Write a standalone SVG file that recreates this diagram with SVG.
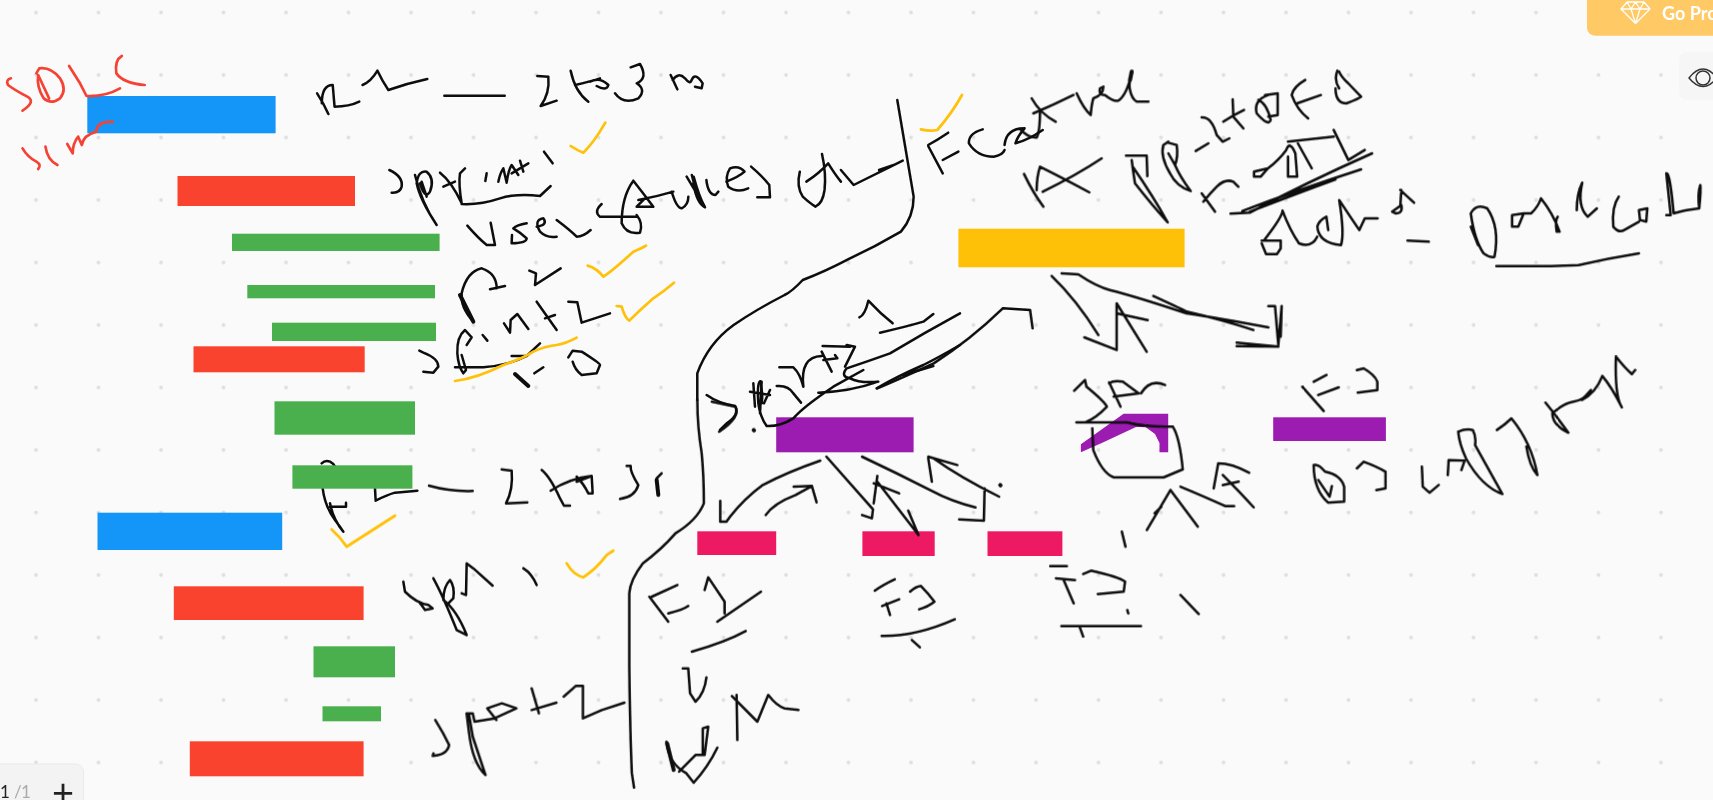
<svg xmlns="http://www.w3.org/2000/svg" width="1713" height="800" viewBox="0 0 1713 800">
<style>
path{fill:none;stroke:#0c0c0c;stroke-width:2.5;stroke-linecap:round;stroke-linejoin:round;vector-effect:non-scaling-stroke}
.r{stroke:#F44336;stroke-width:2.7}
.y{stroke:#FFC107;stroke-width:2.7}
.b{fill:#1396F8}.o{fill:#F9432F}.g{fill:#4AB04E}.a{fill:#FFC107}.p{fill:#9C1BB0}.k{fill:#ED1A63}
.th{stroke-width:4}
text{font-family:Lato,"Liberation Sans",sans-serif}
</style>
<defs>
<pattern id="dots" width="62.5" height="62.5" patternUnits="userSpaceOnUse" x="5" y="-19"><circle cx="31" cy="31.5" r="1.9" fill="#dfdfdf"/></pattern>
<filter id="soft" filterUnits="userSpaceOnUse" x="0" y="0" width="1713" height="800"><feGaussianBlur stdDeviation=".35"/></filter>
</defs>
<rect width="1713" height="800" fill="#fafafa"/>
<rect width="1713" height="800" fill="url(#dots)"/>

<g id="ink-under-bar" filter="url(#soft)"><g transform="translate(310 440) scale(.3333)">
<path d="M35 70Q45 60 60 65Q70 70 75 80M38 145Q45 200 75 240Q90 260 100 275Q70 240 60 190M60 200L108 200L108 188M195 145L197 182Q230 165 255 158L322 152"/>
</g></g>

<g id="bars">
<rect id="bar-blue-1" class="b" x="87.3" y="96" width="188.3" height="37.3"/>
<rect id="bar-red-1" class="o" x="177.5" y="176" width="177.5" height="30"/>
<rect id="bar-green-1" class="g" x="232" y="233.7" width="207.6" height="17.3"/>
<rect id="bar-green-2" class="g" x="247.3" y="285" width="187.7" height="13.3"/>
<rect id="bar-green-3" class="g" x="272" y="322.7" width="164" height="18.3"/>
<rect id="bar-red-2" class="o" x="193.5" y="346.3" width="171.2" height="26"/>
<rect id="bar-green-4" class="g" x="274.5" y="401.3" width="140.5" height="33.4"/>
<rect id="bar-green-5" class="g" x="292.4" y="465.3" width="120" height="23.4"/>
<rect id="bar-blue-2" class="b" x="97.5" y="512.7" width="184.7" height="37.3"/>
<rect id="bar-red-3" class="o" x="173.8" y="586.3" width="189.8" height="33.7"/>
<rect id="bar-green-6" class="g" x="313.5" y="646.3" width="81.5" height="31"/>
<rect id="bar-green-7" class="g" x="322.5" y="706.3" width="58.5" height="15"/>
<rect id="bar-red-4" class="o" x="189.8" y="741.3" width="173.8" height="35"/>
<rect id="bar-yellow" class="a" x="958.4" y="228.7" width="226.2" height="38.6"/>
<rect id="bar-purple-1" class="p" x="776.2" y="417.3" width="137.4" height="35"/>
<rect id="bar-purple-3" class="p" x="1273.2" y="417.3" width="112.7" height="23.7"/>
<rect id="bar-pink-1" class="k" x="697.3" y="531.3" width="78.9" height="23.7"/>
<rect id="bar-pink-2" class="k" x="862.4" y="531.3" width="72.3" height="24.7"/>
<rect id="bar-pink-3" class="k" x="987.5" y="531.3" width="74.9" height="24.7"/>
<polygon id="bar-purple-2" class="p" points="1080.9,444.3 1123.6,413.7 1168.2,413.7 1168.2,452.3 1159.5,452.3 1159.5,443 1155,434 1145.5,427 1136,427 1102.3,442.7 1080.9,452.3"/>
</g>

<g id="ink" filter="url(#soft)">
<g id="ink-z1" transform="scale(.36364 .33333)">
<path class="r" d="M30 235Q15 240 22 255Q40 270 75 290Q100 305 62 332M100 220L108 205Q140 200 165 235Q185 270 165 295Q140 315 120 295Q100 260 105 225L135 295M190 198L220 250L238 288Q290 290 330 265M335 168Q315 180 320 220Q340 250 398 255"/>
<path class="r" d="M62 445Q75 470 100 485Q115 495 105 507M125 440Q130 480 158 495M185 432L200 460Q200 430 215 410L225 435Q230 405 265 395Q265 365 310 365"/>
<path d="M872 280Q890 310 903 342M885 310Q885 255 915 255L920 320Q960 320 988 305M997 255Q1020 245 1038 212Q1050 240 1068 270Q1120 250 1175 237M1222 287L1388 287"/>
</g>

<g id="ink-z7" transform="translate(380 50) scale(.33333)">
<path d="M472 78L505 80Q510 130 482 168L530 152M572 62Q585 125 625 155M585 105Q630 95 660 85M630 95Q660 80 685 105Q680 125 650 108M752 52L780 42Q805 85 770 100Q800 120 775 145Q730 165 705 130M872 75L892 118M878 90Q895 65 915 85Q930 105 935 90Q945 65 968 100L965 115L945 110"/>
<path d="M28 360Q70 380 65 410Q60 430 35 428M105 375Q125 460 170 525Q120 450 110 400Q115 360 140 365Q165 385 150 425Q135 450 120 400M125 395L140 440M180 368Q215 395 245 460Q235 400 240 370L255 355M190 410L225 395M320 370L316 393M355 395Q360 370 370 355L380 398Q385 360 395 345L415 375M395 370L445 340M420 332L430 365M492 305L518 340M245 462Q300 465 360 445Q410 430 480 438L512 408"/>
<path class="y" d="M572 288Q590 300 610 308Q640 280 676 218"/>
<path d="M262 527Q295 565 320 585L345 585L332 518M440 520Q410 525 400 535Q425 550 440 565Q440 580 395 580L396 555M470 530Q505 525 490 505Q460 510 480 545Q500 565 530 560M530 510Q570 540 590 560Q610 560 632 540M665 462Q640 485 660 500L770 500M770 495Q790 520 780 548Q740 555 725 520Q725 440 760 392Q790 430 820 470L770 470L795 445M775 450Q830 440 880 425M875 425Q890 475 905 475Q925 465 925 440M920 380Q950 430 975 472Q950 460 940 400"/>
</g>

<g id="ink-z2" transform="translate(570 0) scale(.36364 .33333)">
<path d="M340 530Q355 590 370 620Q345 575 335 525M375 540Q380 585 400 585L408 575M430 545Q465 530 480 515Q465 495 440 505Q425 530 435 560Q460 580 490 565M498 500Q530 530 548 555L550 592L515 592"/>
<path d="M632 515Q622 560 640 590Q660 610 675 620Q695 610 700 570Q705 520 693 462M650 545Q685 520 710 490Q730 525 745 545M745 510L780 555L915 482M850 510L890 495"/>
<path d="M900 300L945 590Q945 650 910 695Q840 740 770 775Q700 815 640 840Q610 875 590 885Q510 930 450 975Q380 1030 350 1120L350 1200"/>
<path class="y" d="M965 388Q990 395 1010 390Q1050 340 1078 285"/>
<path d="M985 438L1025 520M985 435Q1010 420 1040 398M1025 480L1068 455M1135 388Q1095 400 1097 430Q1120 470 1165 470Q1190 465 1195 450M1195 435Q1200 385 1250 385Q1230 410 1225 430Q1260 420 1300 390"/>
</g>

<g id="ink-z10" transform="translate(1020 60) scale(.33333)">
<path d="M0 207Q25 235 50 232Q60 215 60 150M35 115Q60 160 107 185M40 160Q100 135 160 105M170 100Q190 145 212 165Q215 130 220 115Q250 105 250 80L240 85Q235 105 255 105Q280 125 295 122Q320 105 335 40Q325 70 330 90Q335 115 350 125L385 125"/>
<path class="th" d="M335 35L330 60"/>
<path d="M12 342Q40 400 70 440M50 390Q50 350 60 320Q140 360 208 397M68 395Q170 345 245 295M318 287L380 287L382 348M335 300Q340 340 345 370Q400 440 443 487Q400 410 338 320M445 248L470 255Q475 290 465 315Q480 350 512 393Q470 380 450 340Q420 290 430 255L445 245M445 280L465 315M527 273L565 250M545 172Q575 170 590 225L608 245L628 235M610 185Q640 165 672 150M638 118L640 170L670 205M735 105L773 100L773 165L745 170M745 105Q700 120 710 160Q745 200 752 180Q740 130 715 120M545 400L585 455M550 425Q570 400 590 380Q615 355 640 365L655 380"/>
<path d="M95 648Q170 720 235 825M193 832L290 870L290 730L380 875M290 760L383 780M125 640L175 643Q230 680 270 690Q350 710 500 760Q600 775 745 802M400 708Q470 740 500 755Q610 780 700 810M745 738L765 738L775 855L785 738L782 830M650 848L775 860M650 858L775 860"/>
</g>

<g id="ink-z3" transform="translate(1140 0) scale(.36550 .33333)">
<path d="M452 240Q420 260 415 285Q430 330 460 355M430 310L495 285M540 212Q530 240 545 265M535 265Q535 310 565 310Q600 295 605 290L570 250Q550 230 545 215M312 515L350 505L330 530L312 530ZM350 505Q380 480 400 450Q410 420 425 460L430 530L405 530L405 470M432 430L470 505M405 425L530 410M530 390L570 480L615 450"/>
<path d="M248 641L300 638Q450 550 635 460M280 633Q430 570 605 508M300 635Q430 580 535 538"/>
<path d="M333 722L385 722L385 745L375 762L345 762L333 730M340 720Q390 650 390 632Q410 690 435 730Q470 745 485 710M485 680Q490 730 550 735Q560 700 545 600Q575 650 600 690L615 655L650 655M485 680Q490 660 510 650L515 690M690 635L715 615Q720 640 700 640ZM712 570L750 608M715 570L712 620M732 722L790 725"/>
<path d="M905 640Q915 720 940 760Q960 775 970 770Q985 680 950 625Q920 610 905 640M905 680L925 735M1018 645L1050 640L1035 680L1018 680ZM1070 640Q1090 620 1097 595Q1130 640 1148 695L1140 695Q1135 660 1143 650M1050 640L1070 640M1195 630Q1195 580 1210 548Q1195 620 1225 650L1250 625M1310 590Q1290 620 1295 680Q1310 700 1325 690L1365 665M1365 630L1388 625L1385 665L1368 660ZM1440 645L1452 645L1440 520Q1450 515 1460 640Q1490 630 1530 625Q1535 570 1533 555Q1525 580 1530 625M975 798Q1100 800 1200 795Q1280 775 1365 760"/>
</g>

<g id="ink-z9" transform="translate(690 290) scale(.33333)">
<path d="M810 70Q700 130 600 190Q530 215 470 235Q450 260 480 265Q510 280 565 275Q480 305 385 308M520 240L430 290Q340 350 310 385Q270 410 230 408Q210 380 205 340Q200 265 215 275L210 370"/>
<path d="M560 295Q620 260 700 225Q750 200 810 165M730 228L640 255"/>
<path d="M50 315Q85 340 135 348Q150 375 110 400L90 420M180 305L240 315M190 280L195 350M210 275Q220 310 215 340M240 300L222 340M260 288Q295 285 310 310L333 338M268 232L310 232Q330 250 340 290Q330 200 395 198M398 168L480 170M395 185L425 245M400 210L442 205L435 195M470 165L495 170L465 230"/>
<path d="M508 82Q525 75 535 32Q570 70 608 100M570 128Q650 110 700 95L730 72"/>
</g>
<g id="ink-z2b" transform="translate(570 0) scale(.36364 .33333)">
<path d="M1190 925L1265 930L1272 985M1190 925Q1100 1020 1000 1090Q900 1140 845 1165"/>
</g>

<g id="ink-z8" transform="translate(400 230) scale(.33333)">
<path d="M220 275Q180 230 185 190Q200 125 245 115Q290 130 290 175M270 178L315 168M388 122L408 130L405 165L482 115M58 362L70 368Q115 385 115 410L100 428L70 425M200 345L215 322L195 300Q170 320 172 370Q175 410 190 430L198 420L185 375M248 315L262 332M312 280L330 308L332 270L352 252L385 297M410 215L470 300M435 265L465 255M505 215L532 217L545 278L630 250M165 412L250 412Q330 405 380 378M335 378L380 378L420 340M403 430L430 412M505 382L518 362L545 365Q600 400 600 405L590 430L545 435Q525 420 518 395"/>
<path class="th" d="M180 195L220 275M345 432L385 468"/>
<path class="y" d="M165 453Q230 445 310 405Q370 385 400 365Q430 350 470 345Q500 340 530 323M563 107Q590 115 610 140Q640 120 700 65Q725 55 738 47M650 228L665 230Q675 265 688 272Q720 240 760 205Q790 185 822 158"/>
</g>

<g id="ink-z5" transform="translate(570 400) scale(.36364 .33333)">
<path d="M350 0Q350 80 362 160Q368 230 368 310Q350 360 290 400Q250 450 200 490Q165 540 163 580L163 800Q165 1000 170 1120L176 1163"/>
<path d="M688 182Q600 215 530 255Q480 295 440 350L430 365L413 365L413 303M538 345Q560 310 620 285L665 258L615 260M665 258L678 307M705 170Q770 250 833 328L830 355L803 345M835 310L845 228M835 250L905 280M845 245L958 405L930 332M803 170Q900 220 990 270Q1050 305 1115 322M1070 358L1138 362L1140 265M985 170L1065 195M1000 175Q1070 230 1180 290M985 175L995 245"/>
<path class="th" d="M1183 255L1184 256M505 90L506 91"/>
<path d="M390 5L455 20Q470 50 410 95"/>
<path d="M218 590L270 665M225 590L295 555M270 640Q310 630 325 618M370 570L380 532L425 605L425 640M405 665L525 575M335 755Q430 725 483 693M310 805L325 805L330 880L345 905Q370 880 375 832M458 885L460 1020M445 888L515 965L545 885Q570 920 590 925L628 930M265 1025Q270 1090 320 1120L340 1148Q380 1100 405 1043M300 1115L345 1065L370 1065L380 980L365 985L365 1060"/>
<path class="th" d="M267 1030L285 1110"/>
<path d="M838 572Q860 555 893 538M858 618L905 598M870 610L880 645M935 575Q950 560 965 558Q985 580 1002 605Q985 620 960 628M857 708Q950 710 1058 658M940 720L962 742"/>
</g>

<g id="ink-z6" transform="translate(1000 350) scale(.45455 .33333)">
<path d="M110 648L147 648M123 685L165 690M140 690L162 760M183 672L200 662Q260 680 275 695L272 725L215 732M280 780L282 790M135 828L310 828M175 830L183 860M397 735L437 792M268 545L276 590"/>
<path d="M163 122L187 90L190 110Q230 155 235 170Q210 205 190 215M168 217L280 217Q310 230 380 230M240 97L265 170M250 140L305 130L270 95Q250 90 240 100M310 130Q330 85 363 105M203 235L205 300Q225 370 250 382L360 382L402 358Q395 260 380 230"/>
<path d="M323 540L375 420L435 530M340 490L355 470M397 410Q450 440 495 468L515 468M470 415L480 340Q510 340 548 368M490 375Q530 430 558 472M490 405L525 395"/>
<path d="M665 110L712 183M690 95L718 75M700 135L745 112M785 60L800 55Q825 75 830 95L830 120L787 128M690 345Q700 340 715 365Q750 375 757 410L757 455L722 458Q690 420 690 345M700 390L725 440L730 408M785 355L800 335Q830 350 848 365L848 415L828 420M928 350L930 410L945 428L965 405M985 375L987 330L1022 332L1015 360M1008 245Q1025 235 1040 240Q1048 260 1045 285L1105 432Q1060 410 1025 325Q1010 280 1008 245M1093 240Q1110 225 1125 205Q1170 280 1182 375Q1165 350 1158 290M1200 158Q1225 200 1250 248Q1215 225 1215 190Q1240 160 1262 155Q1285 150 1300 120L1280 150Q1310 130 1325 78Q1345 110 1368 172Q1352 140 1355 20Q1375 55 1390 72L1397 60"/>
</g>

<g id="ink-z11" transform="translate(310 440) scale(.33333)">
<path d="M357 137Q420 155 488 153M575 88L605 92Q610 150 588 190L652 187M695 90Q720 110 750 175L762 197L780 197M722 152Q780 115 845 108M800 125L845 108L848 160L835 160Q820 130 800 110M950 78L962 78Q960 95 985 135Q975 170 930 177"/>
<path class="th" d="M1040 120L1045 165"/>
<path d="M1040 115L1055 100"/>
<path class="y" d="M65 268Q90 290 110 320L255 227M770 370Q790 405 820 412Q860 385 890 345L910 332"/>
<path d="M280 425L285 455Q320 490 355 495L368 505L345 510Q335 495 330 490M370 415Q400 470 440 570L470 585Q440 510 400 480Q400 440 420 420Q435 440 430 475L410 495M455 460L468 465L470 370L490 385L548 437M640 385Q665 400 680 435"/>
</g>

<g id="ink-z4" transform="translate(0 400) scale(.36364 .33333)">
<path d="M1197 960Q1220 1000 1235 1035Q1230 1065 1190 1068L1192 1060M1290 945L1300 1010L1335 1125Q1300 1090 1290 1000L1283 940L1300 940L1305 965L1360 955L1420 925L1380 910L1340 925L1365 960M1462 865L1482 940M1462 930L1530 908M1550 890L1583 858L1603 858L1603 955L1655 930L1717 908"/>
</g>
</g>

<g id="go-pro">
<rect x="1587" y="-10" width="140" height="45.7" rx="8" fill="#FFC966"/>
<path d="M1627 2L1644 2L1650 9L1635.5 23.5L1621 9ZM1621 9L1650 9M1631 9L1635.5 23.5L1640 9M1627 2L1631 9L1635.5 2L1640 9L1644 2" style="stroke:#fff;stroke-width:1.3"/>
<text x="1662" y="19.5" font-size="18" font-weight="700" fill="#fff">Go Pro</text>
</g>
<g id="eye-panel">
<rect x="1679" y="52" width="60" height="48" rx="8" fill="#f6f6f6"/>
<path d="M1689 78Q1703 60 1717 78Q1703 95 1689 78Z" style="stroke:#333;stroke-width:1.5"/>
<circle cx="1703" cy="78" r="7" fill="none" stroke="#333" stroke-width="1.5"/>
</g>
<g id="pager">
<rect x="-10" y="764" width="93.6" height="50" rx="8" fill="#f3f3f3" stroke="#e9e9e9"/>
<text y="798" font-size="17" fill="#222"><tspan x="0">1</tspan><tspan x="14" fill="#aaa">/</tspan><tspan x="21" fill="#aaa">1</tspan></text>
<text x="63" y="806" font-size="38" text-anchor="middle" fill="#222">+</text>
</g>
</svg>
